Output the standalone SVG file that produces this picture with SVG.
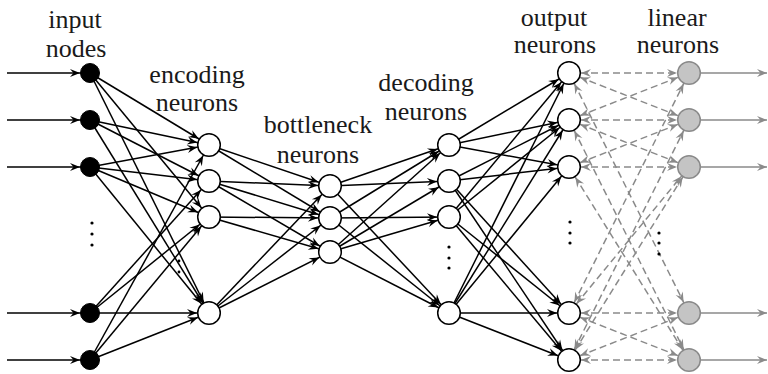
<svg xmlns="http://www.w3.org/2000/svg" width="768" height="374" viewBox="0 0 768 374">
<style>
text{font-family:'Liberation Serif','Times New Roman',Tinos,'DejaVu Serif',serif;font-size:26px;fill:#1a1a1a;text-anchor:middle}
.e{stroke:#000;stroke-width:1.5;fill:none}
.ew{marker-end:url(#aw)}
.eb{marker-end:url(#ab)}
.d{stroke:#8a8a8a;stroke-width:1.5;fill:none;stroke-dasharray:7 4;marker-start:url(#ag);marker-end:url(#ag)}
.g{stroke:#8a8a8a;stroke-width:1.5;fill:none;marker-end:url(#ag0)}
.in{fill:#000;stroke:#000;stroke-width:1}
.wn{fill:#fff;stroke:#000;stroke-width:1.5}
.ln{fill:#c4c4c4;stroke:#8a8a8a;stroke-width:1.5}
.dot{fill:#000}
</style>
<defs>
<marker id="aw" markerUnits="userSpaceOnUse" markerWidth="12" markerHeight="10" refX="12" refY="0" orient="auto" overflow="visible"><path d="M0,0 L-10,-4 L-6.5,0 L-10,4 Z" fill="#000"/></marker>
<marker id="ab" markerUnits="userSpaceOnUse" markerWidth="12" markerHeight="10" refX="10" refY="0" orient="auto" overflow="visible"><path d="M0,0 L-10,-4 L-6.5,0 L-10,4 Z" fill="#000"/></marker>
<marker id="ag" markerUnits="userSpaceOnUse" markerWidth="12" markerHeight="10" refX="12" refY="0" orient="auto-start-reverse" overflow="visible"><path d="M0,0 L-10,-4 L-6.5,0 L-10,4 Z" fill="#8a8a8a"/></marker>
<marker id="ag0" markerUnits="userSpaceOnUse" markerWidth="12" markerHeight="10" refX="0" refY="0" orient="auto" overflow="visible"><path d="M0,0 L-10,-4 L-6.5,0 L-10,4 Z" fill="#8a8a8a"/></marker>
</defs>
<rect width="768" height="374" fill="#fff"/>
<g id="labels">
<text x="75" y="28">input</text><text x="76" y="57">nodes</text>
<text x="197" y="83">encoding</text><text x="197" y="111">neurons</text>
<text x="318" y="133">bottleneck</text><text x="318" y="163">neurons</text>
<text x="426" y="91">decoding</text><text x="426" y="120">neurons</text>
<text x="554" y="26">output</text><text x="555" y="53">neurons</text>
<text x="677" y="26">linear</text><text x="678" y="53">neurons</text>
</g>
<g id="connectors">
<g class="e eb">
<line x1="7" y1="73" x2="90" y2="73"/><line x1="7" y1="120" x2="90" y2="120"/><line x1="7" y1="167" x2="90" y2="167"/><line x1="7" y1="313" x2="90" y2="313"/><line x1="7" y1="360" x2="90" y2="360"/>
</g>
<g class="e ew">
<line x1="90" y1="73" x2="209" y2="145"/><line x1="90" y1="73" x2="209" y2="217"/><line x1="90" y1="73" x2="209" y2="313"/>
<line x1="90" y1="120" x2="209" y2="145"/><line x1="90" y1="120" x2="209" y2="181"/><line x1="90" y1="120" x2="209" y2="313"/>
<line x1="90" y1="167" x2="209" y2="145"/><line x1="90" y1="167" x2="209" y2="181"/><line x1="90" y1="167" x2="209" y2="217"/><line x1="90" y1="167" x2="209" y2="313"/>
<line x1="90" y1="313" x2="209" y2="181"/><line x1="90" y1="313" x2="209" y2="217"/><line x1="90" y1="313" x2="209" y2="313"/>
<line x1="90" y1="360" x2="209" y2="145"/><line x1="90" y1="360" x2="209" y2="217"/><line x1="90" y1="360" x2="209" y2="313"/>
<line x1="209" y1="145" x2="330" y2="186"/><line x1="209" y1="145" x2="330" y2="218"/>
<line x1="209" y1="181" x2="330" y2="186"/><line x1="209" y1="181" x2="330" y2="218"/><line x1="209" y1="181" x2="330" y2="252"/>
<line x1="209" y1="217" x2="330" y2="218"/><line x1="209" y1="217" x2="330" y2="252"/>
<line x1="209" y1="313" x2="330" y2="186"/><line x1="209" y1="313" x2="330" y2="218"/><line x1="209" y1="313" x2="330" y2="252"/>
<line x1="330" y1="186" x2="449" y2="145"/><line x1="330" y1="186" x2="449" y2="181"/><line x1="330" y1="186" x2="449" y2="313"/>
<line x1="330" y1="218" x2="449" y2="145"/><line x1="330" y1="218" x2="449" y2="217"/><line x1="330" y1="218" x2="449" y2="313"/>
<line x1="330" y1="252" x2="449" y2="145"/><line x1="330" y1="252" x2="449" y2="181"/><line x1="330" y1="252" x2="449" y2="217"/><line x1="330" y1="252" x2="449" y2="313"/>
<line x1="449" y1="145" x2="569" y2="73"/><line x1="449" y1="145" x2="569" y2="120"/><line x1="449" y1="145" x2="569" y2="167"/>
<line x1="449" y1="181" x2="569" y2="120"/><line x1="449" y1="181" x2="569" y2="167"/><line x1="449" y1="181" x2="569" y2="313"/><line x1="449" y1="181" x2="569" y2="360"/>
<line x1="449" y1="217" x2="569" y2="73"/><line x1="449" y1="217" x2="569" y2="120"/><line x1="449" y1="217" x2="569" y2="313"/><line x1="449" y1="217" x2="569" y2="360"/>
<line x1="449" y1="313" x2="569" y2="73"/><line x1="449" y1="313" x2="569" y2="120"/><line x1="449" y1="313" x2="569" y2="167"/><line x1="449" y1="313" x2="569" y2="313"/><line x1="449" y1="313" x2="569" y2="360"/>
</g>
<g class="d">
<line x1="569" y1="73" x2="689" y2="73"/><line x1="569" y1="73" x2="689" y2="120"/><line x1="569" y1="73" x2="689" y2="313"/>
<line x1="569" y1="120" x2="689" y2="73"/><line x1="569" y1="120" x2="689" y2="120"/><line x1="569" y1="120" x2="689" y2="167"/><line x1="569" y1="120" x2="689" y2="360"/>
<line x1="569" y1="167" x2="689" y2="120"/><line x1="569" y1="167" x2="689" y2="167"/><line x1="569" y1="167" x2="689" y2="360"/>
<line x1="569" y1="313" x2="689" y2="73"/><line x1="569" y1="313" x2="689" y2="167"/><line x1="569" y1="313" x2="689" y2="313"/><line x1="569" y1="313" x2="689" y2="360"/>
<line x1="569" y1="360" x2="689" y2="120"/><line x1="569" y1="360" x2="689" y2="167"/><line x1="569" y1="360" x2="689" y2="313"/><line x1="569" y1="360" x2="689" y2="360"/>
</g>
<g class="g">
<line x1="701" y1="73" x2="767" y2="73"/><line x1="701" y1="120" x2="767" y2="120"/><line x1="701" y1="167" x2="767" y2="167"/><line x1="701" y1="313" x2="767" y2="313"/><line x1="701" y1="360" x2="767" y2="360"/>
</g>
</g>
<g id="ellipses">
<circle class="dot" cx="92" cy="223" r="1.6"/><circle class="dot" cx="92" cy="234" r="1.6"/><circle class="dot" cx="92" cy="245" r="1.6"/>
<circle class="dot" cx="179" cy="261" r="1.4"/><circle class="dot" cx="179" cy="272" r="1.4"/>
<circle class="dot" cx="449" cy="247" r="1.6"/><circle class="dot" cx="449" cy="258" r="1.6"/><circle class="dot" cx="449" cy="268" r="1.6"/>
<circle class="dot" cx="570" cy="222" r="1.6"/><circle class="dot" cx="570" cy="233" r="1.6"/><circle class="dot" cx="570" cy="243" r="1.6"/>
<circle class="dot" cx="659" cy="233" r="1.6"/><circle class="dot" cx="659" cy="243" r="1.6"/><circle class="dot" cx="659" cy="254" r="1.6"/>
</g>
<g id="input-1"><circle class="in" cx="90" cy="73" r="9.5"/></g>
<g id="input-2"><circle class="in" cx="90" cy="120" r="9.5"/></g>
<g id="input-3"><circle class="in" cx="90" cy="167" r="9.5"/></g>
<g id="input-4"><circle class="in" cx="90" cy="313" r="9.5"/></g>
<g id="input-5"><circle class="in" cx="90" cy="360" r="9.5"/></g>
<g id="enc-1"><circle class="wn" cx="209" cy="145" r="11.3"/></g>
<g id="enc-2"><circle class="wn" cx="209" cy="181" r="11.3"/></g>
<g id="enc-3"><circle class="wn" cx="209" cy="217" r="11.3"/></g>
<g id="enc-4"><circle class="wn" cx="209" cy="313" r="11.3"/></g>
<g id="bot-1"><circle class="wn" cx="330" cy="186" r="11.3"/></g>
<g id="bot-2"><circle class="wn" cx="330" cy="218" r="11.3"/></g>
<g id="bot-3"><circle class="wn" cx="330" cy="252" r="11.3"/></g>
<g id="dec-1"><circle class="wn" cx="449" cy="145" r="11.3"/></g>
<g id="dec-2"><circle class="wn" cx="449" cy="181" r="11.3"/></g>
<g id="dec-3"><circle class="wn" cx="449" cy="217" r="11.3"/></g>
<g id="dec-4"><circle class="wn" cx="449" cy="313" r="11.3"/></g>
<g id="out-1"><circle class="wn" cx="569" cy="73" r="11.3"/></g>
<g id="out-2"><circle class="wn" cx="569" cy="120" r="11.3"/></g>
<g id="out-3"><circle class="wn" cx="569" cy="167" r="11.3"/></g>
<g id="out-4"><circle class="wn" cx="569" cy="313" r="11.3"/></g>
<g id="out-5"><circle class="wn" cx="569" cy="360" r="11.3"/></g>
<g id="lin-1"><circle class="ln" cx="689" cy="73" r="11.3"/></g>
<g id="lin-2"><circle class="ln" cx="689" cy="120" r="11.3"/></g>
<g id="lin-3"><circle class="ln" cx="689" cy="167" r="11.3"/></g>
<g id="lin-4"><circle class="ln" cx="689" cy="313" r="11.3"/></g>
<g id="lin-5"><circle class="ln" cx="689" cy="360" r="11.3"/></g>
</svg>
